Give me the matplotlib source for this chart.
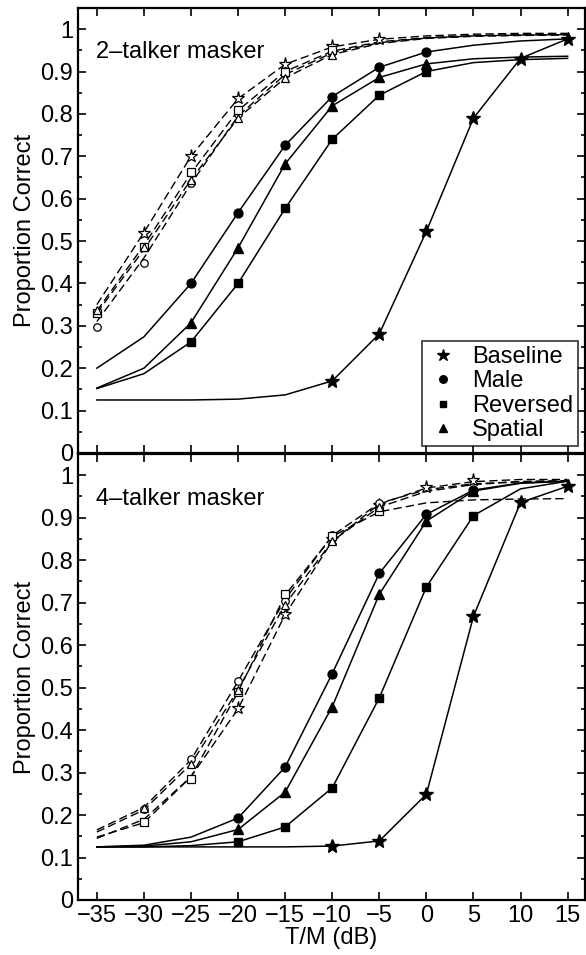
import numpy as np
import matplotlib.pyplot as plt
from matplotlib.lines import Line2D

plt.rcParams['font.family'] = ['Liberation Sans', 'DejaVu Sans']

# T/M grid where the fitted curves are drawn
tm = [-35, -30, -25, -20, -15, -10, -5, 0, 5, 10, 15]

# ---- 2-talker masker ----
# fitted curves, filled symbols (solid lines)
fit2_base = [0.125, 0.125, 0.125, 0.127, 0.137, 0.17, 0.281, 0.523, 0.79, 0.931, 0.977]
fit2_male = [0.2, 0.274, 0.40, 0.567, 0.726, 0.841, 0.91, 0.946, 0.962, 0.972, 0.977]
fit2_rev = [0.152, 0.187, 0.262, 0.40, 0.577, 0.74, 0.844, 0.90, 0.921, 0.928, 0.931]
fit2_spat = [0.153, 0.20, 0.307, 0.484, 0.682, 0.819, 0.886, 0.918, 0.93, 0.934, 0.936]
# fitted curves, open symbols (dashed lines)
fo2_base = [0.35, 0.52, 0.70, 0.836, 0.917, 0.958, 0.976, 0.984, 0.988, 0.99, 0.99]
fo2_male = [0.31, 0.46, 0.635, 0.795, 0.893, 0.944, 0.968, 0.979, 0.984, 0.986, 0.987]
fo2_rev = [0.335, 0.49, 0.66, 0.808, 0.90, 0.948, 0.97, 0.98, 0.985, 0.987, 0.988]
fo2_spat = [0.33, 0.48, 0.645, 0.79, 0.885, 0.94, 0.966, 0.978, 0.983, 0.985, 0.986]

# measured points
x2_base = [-10, -5, 0, 5, 10, 15]
p2_base = [0.17, 0.281, 0.523, 0.79, 0.93, 0.977]
x2_other = [-25, -20, -15, -10, -5, 0]
p2_male = [0.40, 0.567, 0.726, 0.841, 0.91, 0.946]
p2_rev = [0.262, 0.40, 0.577, 0.74, 0.844, 0.90]
p2_spat = [0.307, 0.484, 0.682, 0.819, 0.886, 0.918]

xo2_base = [-30, -25, -20, -15, -10, -5]
po2_base = [0.52, 0.70, 0.838, 0.917, 0.96, 0.977]
xo2_other = [-35, -30, -25, -20, -15, -10]
po2_male = [0.297, 0.449, 0.638, 0.80, 0.895, 0.945]
po2_rev = [0.33, 0.487, 0.662, 0.81, 0.90, 0.95]
po2_spat = [0.337, 0.485, 0.645, 0.79, 0.885, 0.94]

# ---- 4-talker masker ----
fit4_base = [0.125, 0.125, 0.125, 0.125, 0.125, 0.127, 0.139, 0.249, 0.668, 0.936, 0.974]
fit4_male = [0.125, 0.129, 0.148, 0.193, 0.313, 0.533, 0.769, 0.908, 0.965, 0.982, 0.986]
fit4_rev = [0.125, 0.125, 0.128, 0.137, 0.172, 0.264, 0.476, 0.737, 0.905, 0.968, 0.986]
fit4_spat = [0.125, 0.127, 0.137, 0.166, 0.254, 0.455, 0.72, 0.892, 0.963, 0.981, 0.986]

fo4_base = [0.145, 0.19, 0.29, 0.45, 0.672, 0.845, 0.932, 0.97, 0.985, 0.99, 0.99]
fo4_male = [0.165, 0.218, 0.33, 0.515, 0.708, 0.858, 0.934, 0.966, 0.98, 0.985, 0.987]
fo4_rev = [0.148, 0.182, 0.29, 0.49, 0.718, 0.856, 0.914, 0.935, 0.942, 0.944, 0.945]
fo4_spat = [0.16, 0.212, 0.32, 0.495, 0.696, 0.845, 0.925, 0.962, 0.978, 0.985, 0.987]

x4_base = [-10, -5, 0, 5, 10, 15]
p4_base = [0.127, 0.139, 0.249, 0.668, 0.936, 0.974]
x4_other = [-20, -15, -10, -5, 0, 5]
p4_male = [0.193, 0.313, 0.533, 0.769, 0.908, 0.965]
p4_rev = [0.137, 0.172, 0.264, 0.476, 0.737, 0.905]
p4_spat = [0.166, 0.254, 0.455, 0.72, 0.892, 0.963]

xo4_base = [-20, -15, -10, -5, 0, 5]
po4_base = [0.452, 0.673, 0.85, 0.93, 0.972, 0.988]
xo4_other = [-30, -25, -20, -15, -10, -5]
po4_male = [0.215, 0.331, 0.516, 0.705, 0.86, 0.935]
po4_rev = [0.183, 0.286, 0.49, 0.72, 0.858, 0.915]
po4_spat = [0.216, 0.32, 0.494, 0.695, 0.845, 0.925]

conditions = ['Baseline', 'Male', 'Reversed', 'Spatial']
markers = {'Baseline': '*', 'Male': 'o', 'Reversed': 's', 'Spatial': '^'}
msize = {'Baseline': 10.5, 'Male': 6.4, 'Reversed': 5.8, 'Spatial': 7}
msize_open = {'Baseline': 9.5, 'Male': 5.4, 'Reversed': 5.4, 'Spatial': 6}

ytick_vals = [0, 0.1, 0.2, 0.3, 0.4, 0.5, 0.6, 0.7, 0.8, 0.9, 1]
ytick_labels = ['0', '0.1', '0.2', '0.3', '0.4', '0.5', '0.6', '0.7', '0.8', '0.9', '1']
xtick_vals = [-35, -30, -25, -20, -15, -10, -5, 0, 5, 10, 15]

FS = 17
dash = (0, (6, 3))


def draw_panel(ax, fits, ofits, pts, opts, title):
    for c in conditions:
        ax.plot(tm, ofits[c], color='black', lw=1.0, ls=dash, zorder=2)
        ax.plot(tm, fits[c], color='black', lw=1.1, zorder=3)
    for c in conditions:
        xs, ys = opts[c]
        ax.plot(xs, ys, ls='none', marker=markers[c], ms=msize_open[c],
                mfc='white', mec='black', mew=0.9, zorder=4)
    for c in conditions:
        xs, ys = pts[c]
        ax.plot(xs, ys, ls='none', marker=markers[c], ms=msize[c],
                mfc='black', mec='black', zorder=5)

    ax.set_xlim(-37, 16.8)
    ax.set_ylim(0, 1.05)
    ax.set_xticks(xtick_vals)
    ax.set_yticks(ytick_vals)
    ax.set_yticklabels(ytick_labels)
    ax.set_yticks(np.arange(0.05, 1.05, 0.1), minor=True)
    ax.tick_params(direction='in', top=True, right=True, which='both',
                   labelsize=FS, width=1.2)
    ax.tick_params(which='major', length=6)
    ax.tick_params(which='minor', length=3)
    ax.set_ylabel('Proportion Correct', fontsize=FS, labelpad=3)
    for s in ax.spines.values():
        s.set_linewidth(1.6)
    ax.text(-35.1, 0.945, title, fontsize=FS, ha='left', va='center')


fig = plt.figure(figsize=(5.86, 9.55), dpi=100)
ax1 = fig.add_axes([0.1331, 0.5257, 0.8645, 0.4660])
ax2 = fig.add_axes([0.1331, 0.0576, 0.8645, 0.4670])

draw_panel(ax1,
           {'Baseline': fit2_base, 'Male': fit2_male, 'Reversed': fit2_rev, 'Spatial': fit2_spat},
           {'Baseline': fo2_base, 'Male': fo2_male, 'Reversed': fo2_rev, 'Spatial': fo2_spat},
           {'Baseline': (x2_base, p2_base), 'Male': (x2_other, p2_male),
            'Reversed': (x2_other, p2_rev), 'Spatial': (x2_other, p2_spat)},
           {'Baseline': (xo2_base, po2_base), 'Male': (xo2_other, po2_male),
            'Reversed': (xo2_other, po2_rev), 'Spatial': (xo2_other, po2_spat)},
           '2\u2013talker masker')
draw_panel(ax2,
           {'Baseline': fit4_base, 'Male': fit4_male, 'Reversed': fit4_rev, 'Spatial': fit4_spat},
           {'Baseline': fo4_base, 'Male': fo4_male, 'Reversed': fo4_rev, 'Spatial': fo4_spat},
           {'Baseline': (x4_base, p4_base), 'Male': (x4_other, p4_male),
            'Reversed': (x4_other, p4_rev), 'Spatial': (x4_other, p4_spat)},
           {'Baseline': (xo4_base, po4_base), 'Male': (xo4_other, po4_male),
            'Reversed': (xo4_other, po4_rev), 'Spatial': (xo4_other, po4_spat)},
           '4\u2013talker masker')

ax1.tick_params(labelbottom=False)
ax2.set_xlabel('T/M (dB)', fontsize=FS, labelpad=0)

# legend with symbols only
handles = [Line2D([], [], ls='none', marker=markers[c], ms=msize[c] * 0.85,
                  mfc='black', mec='black') for c in conditions]
leg = ax1.legend(handles, conditions, loc='lower right', fontsize=FS,
                 frameon=True, fancybox=False, edgecolor='black',
                 handlelength=1.4, handletextpad=0.5, labelspacing=0.1,
                 borderpad=0.2, borderaxespad=0.3)
leg.get_frame().set_linewidth(1.2)

fig.savefig('out.png', dpi=100)
